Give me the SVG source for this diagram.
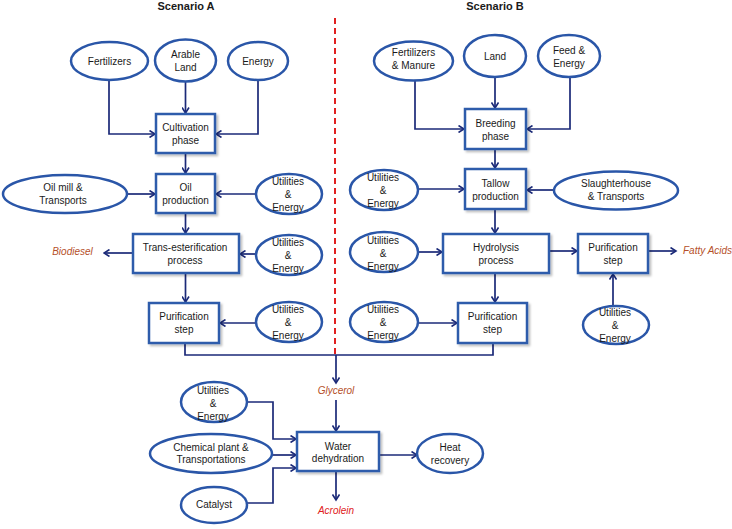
<svg xmlns="http://www.w3.org/2000/svg" width="732" height="529" viewBox="0 0 732 529">
<defs>
<marker id="ah" markerWidth="8" markerHeight="8" refX="6.5" refY="4" orient="auto" markerUnits="userSpaceOnUse">
<path d="M1,0.5 L6.5,4 L1,7.5" fill="none" stroke="#1b2a78" stroke-width="1.6"/>
</marker>
<filter id="sh" x="-10%" y="-10%" width="130%" height="140%">
<feDropShadow dx="2" dy="2" stdDeviation="1.2" flood-color="#000" flood-opacity="0.25"/>
</filter>
</defs>
<style>
text{font-family:"Liberation Sans",Arial,sans-serif;font-size:10px;fill:#1a1a1a;text-anchor:middle;dominant-baseline:central}
.box{fill:#fff;stroke:#2f5bab;stroke-width:2.5;filter:url(#sh)}
.ell{fill:#fff;stroke:#2a56a8;stroke-width:2.5}
.c{fill:none;stroke:#1b2a78;stroke-width:1.7}
.a{marker-end:url(#ah)}
.title{font-weight:bold;font-size:11px}
.out{font-style:italic;fill:#b5502a}
.red{font-style:italic;fill:#e02020}
</style>
<rect width="732" height="529" fill="#fff"/>
<text class="title" x="186" y="6">Scenario A</text>
<text class="title" x="495" y="6">Scenario B</text>
<line x1="335" y1="18" x2="335" y2="355" stroke="#e02020" stroke-width="2" stroke-dasharray="6,4"/>

<g id="connectors">
<path class="c a" d="M109,80 V134 H155"/>
<path class="c a" d="M185.5,82 V113"/>
<path class="c a" d="M258,80 V134 H216"/>
<path class="c a" d="M185.5,153 V173"/>
<path class="c a" d="M127,194 H155"/>
<path class="c a" d="M256,194 H216"/>
<path class="c a" d="M185.5,213 V233"/>
<path class="c a" d="M133,253 H104"/>
<path class="c a" d="M256,254 H240"/>
<path class="c a" d="M185.5,273 V302"/>
<path class="c a" d="M256,323 H220"/>
<path class="c" d="M185,343 V355 H493 V343"/>
<path class="c a" d="M336,355 V383"/>
<path class="c a" d="M415,81 V129 H464"/>
<path class="c a" d="M495,77 V108"/>
<path class="c a" d="M570,77 V129 H527"/>
<path class="c a" d="M495,149 V168"/>
<path class="c a" d="M418,189 H464"/>
<path class="c a" d="M554,190 H527"/>
<path class="c a" d="M495,209 V233"/>
<path class="c a" d="M418,252 H442"/>
<path class="c a" d="M549,251 H577"/>
<path class="c a" d="M648,251 H676"/>
<path class="c a" d="M613,307 V274"/>
<path class="c a" d="M495,273 V302"/>
<path class="c a" d="M417,323 H457"/>
<path class="c a" d="M336,400 V431"/>
<path class="c a" d="M247,402 H273 V439 H296"/>
<path class="c a" d="M272,455 H296"/>
<path class="c a" d="M247,503 H273 V468 H296"/>
<path class="c a" d="M379,455 H417"/>
<path class="c a" d="M336,471 V500"/>
</g>

<g id="fertilizers"><ellipse class="ell" cx="109.5" cy="61" rx="38.5" ry="19"/><text x="109.5" y="61">Fertilizers</text></g>
<g id="arable-land"><ellipse class="ell" cx="185.5" cy="60.5" rx="30.5" ry="21"/><text x="185.5" y="54">Arable</text><text x="185.5" y="67">Land</text></g>
<g id="energy-a"><ellipse class="ell" cx="258" cy="61" rx="30" ry="19"/><text x="258" y="61">Energy</text></g>
<g id="cultivation"><rect class="box" x="156" y="114" width="59" height="39"/><text x="185.5" y="127">Cultivation</text><text x="185.5" y="140">phase</text></g>
<g id="oil-mill"><ellipse class="ell" cx="65" cy="194" rx="62" ry="19"/><text x="63" y="187">Oil mill &amp;</text><text x="63" y="200">Transports</text></g>
<g id="oil-production"><rect class="box" x="156" y="174" width="59" height="39"/><text x="185.5" y="187">Oil</text><text x="185.5" y="200">production</text></g>
<g id="util-a1"><ellipse class="ell" cx="289" cy="194" rx="33" ry="20"/><text x="288" y="181">Utilities</text><text x="288" y="194">&amp;</text><text x="288" y="207">Energy</text></g>
<g id="trans-esterification"><rect class="box" x="133" y="234" width="106" height="39"/><text x="185" y="247">Trans-esterification</text><text x="185" y="260">process</text></g>
<g id="biodiesel"><text class="out" x="72.5" y="251">Biodiesel</text></g>
<g id="util-a2"><ellipse class="ell" cx="289" cy="255" rx="33" ry="20"/><text x="288" y="242">Utilities</text><text x="288" y="255">&amp;</text><text x="288" y="268">Energy</text></g>
<g id="purification-a"><rect class="box" x="149" y="303" width="70" height="40"/><text x="184" y="316">Purification</text><text x="184" y="329">step</text></g>
<g id="util-a3"><ellipse class="ell" cx="289" cy="322" rx="33" ry="20"/><text x="288" y="309">Utilities</text><text x="288" y="322">&amp;</text><text x="288" y="335">Energy</text></g>

<g id="fertilizers-manure"><ellipse class="ell" cx="413.5" cy="61" rx="39.5" ry="19.5"/><text x="413.5" y="52.5">Fertilizers</text><text x="413.5" y="65">&amp; Manure</text></g>
<g id="land"><ellipse class="ell" cx="495" cy="56" rx="31" ry="21"/><text x="495" y="56">Land</text></g>
<g id="feed-energy"><ellipse class="ell" cx="569" cy="56" rx="31" ry="21"/><text x="569" y="50">Feed &amp;</text><text x="569" y="63">Energy</text></g>
<g id="breeding"><rect class="box" x="465" y="109" width="61" height="40"/><text x="495.5" y="123">Breeding</text><text x="495.5" y="136">phase</text></g>
<g id="util-b1"><ellipse class="ell" cx="384" cy="190" rx="34" ry="20"/><text x="383" y="177">Utilities</text><text x="383" y="190">&amp;</text><text x="383" y="203">Energy</text></g>
<g id="tallow"><rect class="box" x="465" y="169" width="61" height="40"/><text x="495.5" y="183">Tallow</text><text x="495.5" y="196">production</text></g>
<g id="slaughterhouse"><ellipse class="ell" cx="616" cy="190.5" rx="62" ry="19"/><text x="616" y="183">Slaughterhouse</text><text x="616" y="196">&amp; Transports</text></g>
<g id="util-b2"><ellipse class="ell" cx="384" cy="252" rx="34" ry="20"/><text x="383" y="240">Utilities</text><text x="383" y="253">&amp;</text><text x="383" y="266">Energy</text></g>
<g id="hydrolysis"><rect class="box" x="443" y="234" width="106" height="39"/><text x="496" y="247">Hydrolysis</text><text x="496" y="260">process</text></g>
<g id="purification-r"><rect class="box" x="578" y="234" width="70" height="39"/><text x="613" y="247">Purification</text><text x="613" y="260">step</text></g>
<g id="fatty-acids"><text class="out" x="683" y="250" style="text-anchor:start">Fatty Acids</text></g>
<g id="util-b4"><ellipse class="ell" cx="616" cy="325" rx="33" ry="19"/><text x="615" y="312">Utilities</text><text x="615" y="325">&amp;</text><text x="615" y="338">Energy</text></g>
<g id="util-b3"><ellipse class="ell" cx="384" cy="322" rx="34" ry="20"/><text x="383" y="309">Utilities</text><text x="383" y="322">&amp;</text><text x="383" y="335">Energy</text></g>
<g id="purification-b"><rect class="box" x="458" y="303" width="69" height="40"/><text x="492.5" y="316">Purification</text><text x="492.5" y="329">step</text></g>

<g id="glycerol"><text class="out" x="336" y="390">Glycerol</text></g>
<g id="util-c"><ellipse class="ell" cx="214" cy="402" rx="33" ry="20"/><text x="213" y="390">Utilities</text><text x="213" y="403">&amp;</text><text x="213" y="416">Energy</text></g>
<g id="chemical-plant"><ellipse class="ell" cx="211" cy="453.5" rx="61" ry="19.5"/><text x="211" y="447">Chemical plant &amp;</text><text x="211" y="459">Transportations</text></g>
<g id="catalyst"><ellipse class="ell" cx="214" cy="505" rx="33" ry="18"/><text x="214" y="504">Catalyst</text></g>
<g id="water-dehydration"><rect class="box" x="297" y="432" width="82" height="39"/><text x="338" y="446">Water</text><text x="338" y="458">dehydration</text></g>
<g id="heat-recovery"><ellipse class="ell" cx="450" cy="453.5" rx="33" ry="19.5"/><text x="450" y="447">Heat</text><text x="450" y="460">recovery</text></g>
<g id="acrolein"><text class="red" x="336" y="510">Acrolein</text></g>
</svg>
